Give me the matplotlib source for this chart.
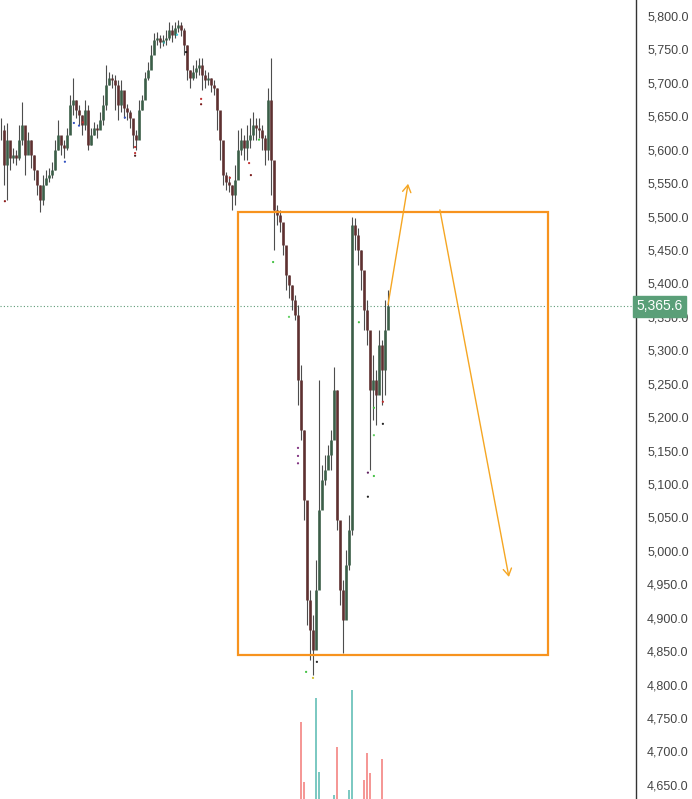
#!/usr/bin/env python3

import matplotlib
matplotlib.use("Agg")
import matplotlib.pyplot as plt
from matplotlib.patches import Rectangle
from matplotlib.ticker import FuncFormatter, MultipleLocator
import matplotlib.transforms as mtransforms

# candles (price values), open = previous close
closes = [5630, 5577, 5615, 5588, 5592, 5588, 5615, 5637, 5592, 5615,
          5592, 5570, 5547, 5525, 5547, 5558, 5562, 5570, 5600, 5622,
          5607, 5603, 5622, 5667, 5674, 5660, 5652, 5637, 5660, 5607,
          5622, 5633, 5630, 5645, 5667, 5697, 5707, 5704, 5697, 5667,
          5689, 5662, 5657, 5648, 5622, 5615, 5660, 5674, 5707, 5719,
          5742, 5764, 5767, 5761, 5764, 5767, 5779, 5772, 5782, 5787,
          5779, 5757, 5719, 5707, 5716, 5722, 5727, 5712, 5704, 5707,
          5697, 5692, 5660, 5615, 5562, 5552, 5547, 5532, 5555, 5600,
          5615, 5603, 5615, 5622, 5637, 5633, 5630, 5618, 5600, 5674,
          5585, 5510, 5502, 5492, 5458, 5413, 5398, 5375, 5353, 5256,
          5181, 5076, 4927, 4882, 4852, 4941, 5061, 5106, 5121, 5143,
          5166, 5241, 5046, 4941, 4897, 4979, 5031, 5487, 5472, 5450,
          5420, 5360, 5330, 5241, 5256, 5233, 5308, 5271, 5330, 5365.6]
highs = [5648, 5637, 5640, 5607, 5603, 5600, 5637, 5671, 5622, 5627,
         5615, 5592, 5570, 5547, 5562, 5570, 5573, 5582, 5615, 5644,
         5618, 5615, 5633, 5682, 5707, 5674, 5667, 5652, 5674, 5667,
         5633, 5642, 5639, 5657, 5682, 5727, 5716, 5713, 5712, 5704,
         5704, 5674, 5668, 5660, 5642, 5630, 5674, 5682, 5716, 5731,
         5757, 5775, 5776, 5772, 5772, 5779, 5791, 5787, 5791, 5794,
         5791, 5782, 5757, 5719, 5727, 5734, 5737, 5737, 5719, 5716,
         5707, 5704, 5692, 5652, 5600, 5567, 5561, 5547, 5577, 5630,
         5633, 5622, 5637, 5648, 5657, 5648, 5648, 5637, 5622, 5692,
         5737, 5532, 5517, 5510, 5480, 5435, 5413, 5398, 5383, 5368,
         5278, 5181, 4964, 4941, 4904, 4986, 5256, 5128, 5143, 5158,
         5181, 5275, 5241, 4986, 4957, 5001, 5054, 5499, 5498, 5483,
         5450, 5390, 5375, 5323, 5293, 5271, 5330, 5315, 5375, 5390]
lows = [5615, 5547, 5525, 5570, 5580, 5577, 5585, 5607, 5562, 5600,
        5573, 5555, 5532, 5507, 5517, 5547, 5552, 5558, 5570, 5600,
        5592, 5588, 5600, 5630, 5652, 5648, 5637, 5622, 5630, 5600,
        5607, 5622, 5618, 5633, 5637, 5660, 5697, 5692, 5660, 5645,
        5657, 5648, 5645, 5633, 5603, 5600, 5622, 5660, 5692, 5704,
        5727, 5749, 5757, 5752, 5755, 5757, 5764, 5761, 5767, 5776,
        5770, 5742, 5704, 5692, 5704, 5707, 5712, 5689, 5692, 5697,
        5686, 5682, 5630, 5585, 5547, 5540, 5537, 5510, 5517, 5577,
        5592, 5585, 5585, 5603, 5615, 5615, 5618, 5600, 5577, 5585,
        5532, 5450, 5488, 5477, 5443, 5390, 5378, 5360, 5345, 5218,
        5166, 5046, 4889, 4837, 4814, 4867, 4986, 5076, 5099, 5124,
        5121, 5181, 5031, 4919, 4847, 4927, 4971, 5024, 5450, 5428,
        5390, 5330, 5308, 5121, 5196, 5188, 5256, 5218, 5233, 5345]

# volume (only the last bars show at the bottom edge)
vol_idx = [100, 101, 105, 106, 111, 112, 116, 117, 121, 122, 123, 127]
vol_val = [77, 17, 101, 27, 4, 52, 9, 109, 19, 46, 26, 40]

# indicator dots
dot_x = [1.3, 21.3, 24.3, 26, 27.3, 41.3, 44.7, 44.7, 44.7, 54.3, 58.7, 61.7,
         66.7, 66.7, 76.3, 82.7, 83.3, 86, 90.7, 96, 99, 99, 99, 101.7, 104,
         105.3, 119.3, 122.3, 122.3, 124.3, 124.3, 124.3, 127.3, 127.3]
dot_y = [5523, 5582, 5640, 5636, 5641, 5648, 5604, 5595, 5591, 5760, 5772, 5746,
         5676, 5668, 5558, 5580, 5562, 5615, 5432, 5350, 5154, 5142, 5131, 4819,
         4810, 4834, 5342, 5117, 5081, 5214, 5173, 5112, 5223, 5190]
dot_c = ["#8b1a1a", "#3050c0", "#3050c0", "#3050c0", "#c03030", "#3050c0",
         "#c03030", "#c03030", "#502020", "#30a0a0", "#40d0e0", "#111111",
         "#c03030", "#7a1a1a", "#c03030", "#c03030", "#7a1a1a", "#40c040",
         "#40c040", "#60d060", "#803080", "#803080", "#803080", "#40c040",
         "#d0c030", "#222222", "#40c040", "#602060", "#222222", "#40c040",
         "#60d060", "#40c040", "#c03030", "#222222"]

last_price = 5365.6
box_x = (79.0, 182.3)
box_y = (4844, 5507)
arrow_up = ((129.0, 5368), (135.7, 5549))
arrow_down = ((146.3, 5510), (169.3, 4961))

fig = plt.figure(figsize=(6.92, 7.99), dpi=100)
ax = fig.add_axes([0, 0, 636 / 692, 1])

xs = list(range(len(closes)))
opens = [closes[0]] + closes[:-1]

up_col = "#3b5e48"
dn_col = "#5e3030"
ax.vlines(xs, lows, highs, color="#4d4d4d", lw=0.8, zorder=3)
for i in xs:
    c = up_col if closes[i] >= opens[i] else dn_col
    ax.vlines(i, min(opens[i], closes[i]), max(opens[i], closes[i]),
              color=c, lw=1.9, zorder=4)

ax.scatter(dot_x, dot_y, s=2.5, c=dot_c, lw=0, zorder=5)

# volume on its own hidden axis
vax = ax.twinx()
vcols = []
for i in vol_idx:
    vcols.append("#26a69a" if closes[i] >= opens[i] else "#ef5350")
vax.bar(vol_idx, vol_val, width=0.35, color=vcols, alpha=0.6, zorder=1)
vax.set_ylim(0, 800)
vax.axis("off")

# last price line and label
ax.axhline(last_price, color="#5e9c78", lw=0.8, ls=(0, (1, 2)), zorder=2)
trans = mtransforms.blended_transform_factory(ax.transAxes, ax.transData)
ax.text(1.0, last_price, f"{last_price:,.1f}", transform=trans,
        ha="left", va="center", color="white", fontsize=10,
        family="Liberation Sans", clip_on=False, zorder=10,
        bbox=dict(boxstyle="square,pad=0.25", fc="#5a9f78", ec="#5a9f78"))

# drawings
ax.add_patch(Rectangle((box_x[0], box_y[0]), box_x[1] - box_x[0], box_y[1] - box_y[0],
                       fill=False, ec="#f7931e", lw=1.6, zorder=6))
for (x0, y0), (x1, y1) in (arrow_up, arrow_down):
    ax.annotate("", xy=(x1, y1), xytext=(x0, y0),
                arrowprops=dict(arrowstyle="->,head_length=0.5,head_width=0.3",
                                color="#f5a623", lw=1.0, shrinkA=0, shrinkB=0),
                zorder=7)

ax.set_xlim(-0.333, 211.67)
ax.set_ylim(4628.9, 5823.9)

ax.yaxis.tick_right()
ax.yaxis.set_major_locator(MultipleLocator(50))
ax.yaxis.set_major_formatter(FuncFormatter(lambda v, p: f"{v:,.1f}"))
ax.tick_params(axis="y", length=0, pad=8, labelsize=9, labelcolor="#444444")
for lab in ax.get_yticklabels():
    lab.set_family("Liberation Sans")
ax.set_xticks([])
for s in ("top", "left", "bottom"):
    ax.spines[s].set_visible(False)
ax.spines["right"].set_color("#333333")
ax.spines["right"].set_linewidth(1.0)

fig.savefig("out.png", dpi=100)
